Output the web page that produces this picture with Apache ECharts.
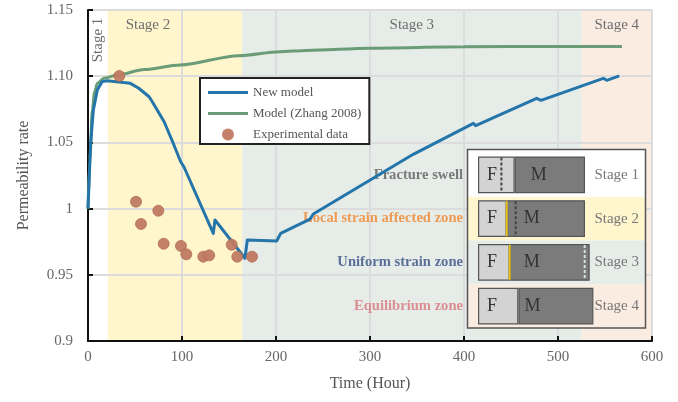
<!DOCTYPE html>
<html>
<head>
<meta charset="utf-8">
<script src="https://cdn.jsdelivr.net/npm/echarts@6/dist/echarts.min.js"></script>
<style>
  html, body { margin: 0; padding: 0; background: #ffffff; }
  #chart { width: 678px; height: 402px; }
</style>
</head>
<body>
<div id="chart"></div>
<script>
// Permeability rate vs time: [hour, rate]
const newModel = [
  [0, 1.0], [2.8, 1.049], [5.7, 1.0745], [9.9, 1.0896], [15, 1.0959], [20.5, 1.0966],
  [45, 1.0946], [54, 1.0909], [65, 1.0845], [68.4, 1.0807], [81, 1.0656], [90, 1.0505],
  [98.6, 1.0354], [102, 1.0316], [133.3, 0.9813], [135.1, 0.9914], [167, 0.9625],
  [169.5, 0.9763], [200.7, 0.9755], [205, 0.9813], [236.2, 0.9921], [239.7, 0.9959],
  [346, 1.041], [410, 1.0644], [412.4, 1.0626], [477.3, 1.0833], [481.9, 1.0818],
  [548.2, 1.0984], [551.8, 1.0969], [565.2, 1.1002]
];
const zhangModel = [
  [0, 1.0], [2, 1.037], [4.6, 1.0745], [7, 1.088], [10, 1.0946], [17, 1.0984],
  [31, 1.1009], [60, 1.105], [98, 1.1085], [160, 1.1155], [204, 1.1185], [233, 1.1195],
  [300, 1.1212], [400, 1.1222], [500, 1.1225], [568, 1.1225]
];
const experimental = [
  [33.3, 1.1002], [51.1, 1.0052], [56.4, 0.9884], [74.8, 0.9984], [80.5, 0.9735],
  [98.9, 0.9718], [104.6, 0.9655], [122.7, 0.9637], [129.0, 0.9647], [152.9, 0.9727],
  [158.8, 0.9637], [174.5, 0.9637]
];

const yTickLabels = ['0.9', '0.95', '1', '1.05', '1.10', '1.15'];
const stageNames = ['Stage 1', 'Stage 2', 'Stage 3', 'Stage 4'];
const stageBounds = [0, 21, 164, 525, 600];
const zoneNames = ['Fracture swell', 'Local strain affected zone', 'Uniform strain zone', 'Equilibrium zone'];

// Schematic of fracture (F) and matrix (M) widths per stage
const fractureWidth = [36.7, 28.7, 31.7, 40.4];
const matrixWidth = [70.3, 78.3, 80, 75];
const swellFrontDark = [[23.4, 0], [37.7, 1]];
const swellFrontLight = [[106.7, 2]];
const strainFront = [[28.7, 1], [31.7, 2]];

const FONT = "'Liberation Serif', 'Times New Roman', serif";
const stageColors = ['#ffffff', '#fff6ce', '#e6ece8', '#fbece2'];
const zoneColors = ['#7a7a7a', '#ee9a52', '#5b6f98', '#dc8f93'];
const matrixLabelGap = [16, 17, 14, 6];
const LINE_ICON = 'path://M0,0 L40,0 L40,3 L0,3 Z';

const stageAreas = stageNames.map((name, i) => {
  const label = i === 0
    ? { show: true, position: [10, 30], rotate: 90, align: 'center', verticalAlign: 'middle' }
    : { show: true, position: 'insideTop', distance: 8, offset: i === 1 ? [-27, 0] : [0, 0] };
  return [
    { name, xAxis: stageBounds[i], itemStyle: { color: stageColors[i] }, label },
    { xAxis: stageBounds[i + 1] }
  ];
});

function frontLine(color, dash, width) {
  return (params, api) => {
    const p = api.coord([api.value(0), api.value(1)]);
    const h = api.size([0, 1])[1] * 0.8;
    return {
      type: 'line',
      shape: { x1: p[0], y1: p[1] - h / 2, x2: p[0], y2: p[1] + h / 2 },
      style: { stroke: color, lineWidth: width, lineDash: dash }
    };
  };
}

const chart = echarts.init(document.getElementById('chart'), null, { renderer: 'canvas' });

chart.setOption({
  animation: false,
  backgroundColor: '#ffffff',
  textStyle: { fontFamily: FONT },
  grid: [
    { left: 88, top: 10, right: 26, bottom: 61 },
    { left: 468, top: 153, width: 177, height: 175, z: 2 }
  ],
  graphic: [
    { type: 'rect', z: 1, shape: { x: 467.5, y: 149.5, width: 178, height: 178.5 },
      style: { fill: '#ffffff', stroke: null } },
    { type: 'rect', z: 10, shape: { x: 467.5, y: 149.5, width: 178, height: 178.5 },
      style: { fill: null, stroke: '#555555', lineWidth: 1.5 } }
  ],
  legend: {
    orient: 'vertical',
    left: 200,
    top: 78,
    itemWidth: 40,
    itemHeight: 12,
    itemGap: 8,
    padding: [8, 8, 3, 8],
    borderColor: '#222222',
    borderWidth: 2,
    backgroundColor: '#ffffff',
    textStyle: { fontFamily: FONT, fontSize: 13, color: '#555555' },
    data: [
      { name: 'New model', icon: LINE_ICON },
      { name: 'Model (Zhang 2008)', icon: LINE_ICON },
      { name: 'Experimental data', icon: 'circle', itemStyle: { borderWidth: 0 } }
    ]
  },
  xAxis: [
    {
      type: 'value', gridIndex: 0, min: 0, max: 600, interval: 100,
      name: 'Time (Hour)', nameLocation: 'middle', nameGap: 35,
      nameTextStyle: { fontFamily: FONT, fontSize: 16, color: '#555555' },
      axisLine: { show: true, lineStyle: { color: '#111111', width: 2 } },
      axisTick: { show: true, inside: true, length: 5, lineStyle: { color: '#111111', width: 2 } },
      axisLabel: { fontFamily: FONT, fontSize: 15, color: '#666666', margin: 9 },
      splitLine: { show: true, lineStyle: { color: '#dcdcdc', width: 2 } }
    },
    { type: 'value', gridIndex: 1, min: -10, max: 167, show: false }
  ],
  yAxis: [
    {
      type: 'value', gridIndex: 0, min: 0.9, max: 1.15, interval: 0.05,
      name: 'Permeability rate', nameLocation: 'middle', nameGap: 56,
      nameTextStyle: { fontFamily: FONT, fontSize: 16, color: '#555555' },
      axisLine: { show: true, lineStyle: { color: '#111111', width: 2 } },
      axisTick: { show: true, inside: true, length: 5, lineStyle: { color: '#111111', width: 2 } },
      axisLabel: {
        fontFamily: FONT, fontSize: 15, color: '#666666', margin: 15,
        formatter: (v, i) => yTickLabels[i]
      },
      splitLine: { show: true, lineStyle: { color: '#dcdcdc', width: 2 } }
    },
    {
      type: 'category', gridIndex: 1, data: stageNames, inverse: true, position: 'right', z: 2,
      axisLine: { show: false }, axisTick: { show: false },
      axisLabel: { inside: true, margin: 6, fontFamily: FONT, fontSize: 15, color: '#777777' },
      splitLine: { show: false },
      splitArea: { show: true, areaStyle: { color: stageColors } }
    },
    {
      type: 'category', gridIndex: 1, data: zoneNames, inverse: true, position: 'left', z: 2,
      axisLine: { show: false }, axisTick: { show: false },
      axisLabel: {
        margin: 5, fontFamily: FONT, fontSize: 14.6, fontWeight: 'bold',
        color: (v, i) => zoneColors[i]
      },
      splitLine: { show: false }
    }
  ],
  series: [
    {
      name: 'stages', type: 'line', xAxisIndex: 0, yAxisIndex: 0, data: [], z: -1,
      markArea: {
        silent: true, z: -1,
        label: { fontFamily: FONT, fontSize: 15, color: '#6e6e6e' },
        data: stageAreas
      }
    },
    {
      name: 'Model (Zhang 2008)', type: 'line', data: zhangModel, symbol: 'none',
      smooth: 0.3, smoothMonotone: 'x', z: 3,
      lineStyle: { color: '#6a9c78', width: 3 }, itemStyle: { color: '#6a9c78' }
    },
    {
      name: 'New model', type: 'line', data: newModel, symbol: 'none', z: 4,
      lineStyle: { color: '#2475a9', width: 3, join: 'round' }, itemStyle: { color: '#2475a9' }
    },
    {
      name: 'Experimental data', type: 'scatter', data: experimental, symbolSize: 11, z: 5,
      itemStyle: { color: '#c07a62', borderColor: '#b06a52', borderWidth: 0.8, opacity: 0.95 }
    },
    {
      name: 'F', type: 'bar', xAxisIndex: 1, yAxisIndex: 1, stack: 'cell', barWidth: '84%', z: 3,
      data: fractureWidth,
      itemStyle: { color: '#d3d3d3', borderColor: '#555555', borderWidth: 1.2 },
      label: { show: true, formatter: 'F', position: 'insideLeft', distance: 9,
        fontFamily: FONT, fontSize: 18, color: '#333333' }
    },
    {
      name: 'M', type: 'bar', xAxisIndex: 1, yAxisIndex: 1, stack: 'cell', barWidth: '84%', z: 3,
      data: matrixWidth.map((v, i) => ({
        value: v,
        label: { distance: matrixLabelGap[i] }
      })),
      itemStyle: { color: '#7b7b7b', borderColor: '#555555', borderWidth: 1.2 },
      label: { show: true, formatter: 'M', position: 'insideLeft',
        fontFamily: FONT, fontSize: 18, color: '#333333' }
    },
    {
      name: 'strain front', type: 'custom', xAxisIndex: 1, yAxisIndex: 1, z: 6,
      data: strainFront, renderItem: frontLine('#e6c21a', null, 2)
    },
    {
      name: 'swell front', type: 'custom', xAxisIndex: 1, yAxisIndex: 1, z: 6,
      data: swellFrontDark, renderItem: frontLine('#444444', [3, 2], 2)
    },
    {
      name: 'swell front light', type: 'custom', xAxisIndex: 1, yAxisIndex: 1, z: 6,
      data: swellFrontLight, renderItem: frontLine('#cfe4e0', [3, 2], 2)
    }
  ]
});
</script>
</body>
</html>
